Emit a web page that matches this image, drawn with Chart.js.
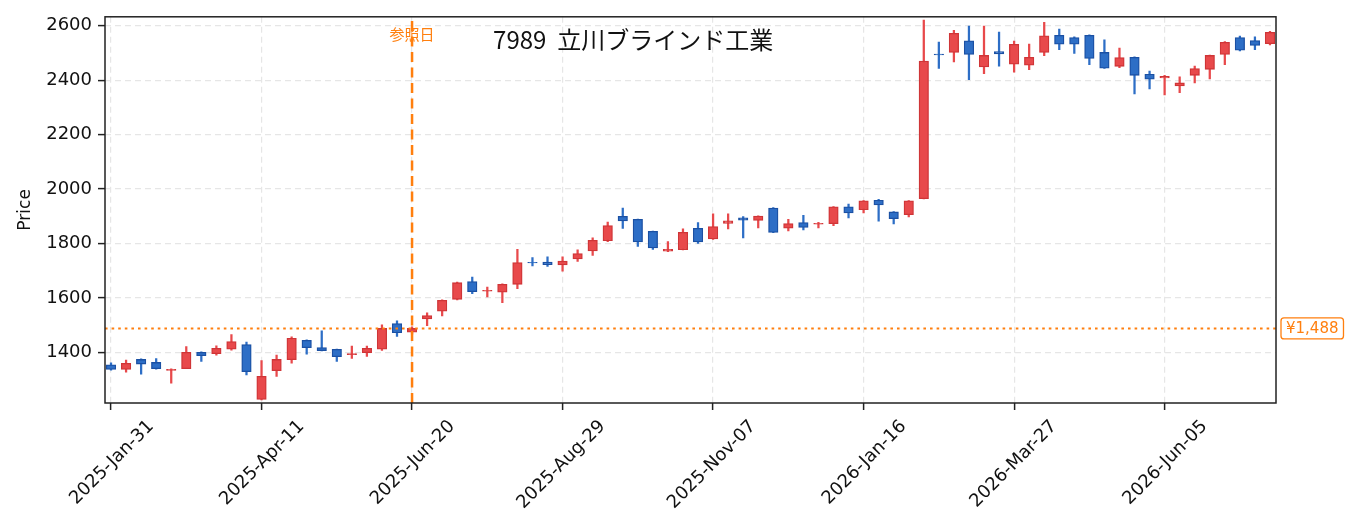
<!DOCTYPE html>
<html>
<head>
<meta charset="utf-8">
<script src="https://cdn.jsdelivr.net/npm/chart.js@4.4.1/dist/chart.umd.min.js"></script>
<style>
html,body{margin:0;padding:0;background:#fff;}
#grafico{display:block;}
</style>
</head>
<body>
<canvas id="grafico" width="1355" height="532"></canvas>
<script>
//************* DATOS **************
var codigo="7989";
var nombre="立川ブラインド工業";
var etiqueta_ref="参照日";

//semanas (viernes)
var fechas=[
 "2025-Jan-31","2025-Feb-07","2025-Feb-14","2025-Feb-21","2025-Feb-28","2025-Mar-07","2025-Mar-14","2025-Mar-21","2025-Mar-28","2025-Apr-04",
 "2025-Apr-11","2025-Apr-18","2025-Apr-25","2025-May-02","2025-May-09","2025-May-16","2025-May-23","2025-May-30","2025-Jun-06","2025-Jun-13",
 "2025-Jun-20","2025-Jun-27","2025-Jul-04","2025-Jul-11","2025-Jul-18","2025-Jul-25","2025-Aug-01","2025-Aug-08","2025-Aug-15","2025-Aug-22",
 "2025-Aug-29","2025-Sep-05","2025-Sep-12","2025-Sep-19","2025-Sep-26","2025-Oct-03","2025-Oct-10","2025-Oct-17","2025-Oct-24","2025-Oct-31",
 "2025-Nov-07","2025-Nov-14","2025-Nov-21","2025-Nov-28","2025-Dec-05","2025-Dec-12","2025-Dec-19","2025-Dec-26","2026-Jan-02","2026-Jan-09",
 "2026-Jan-16","2026-Jan-23","2026-Jan-30","2026-Feb-06","2026-Feb-13","2026-Feb-20","2026-Feb-27","2026-Mar-06","2026-Mar-13","2026-Mar-20",
 "2026-Mar-27","2026-Apr-03","2026-Apr-10","2026-Apr-17","2026-Apr-24","2026-May-01","2026-May-08","2026-May-15","2026-May-22","2026-May-29",
 "2026-Jun-05","2026-Jun-12","2026-Jun-19","2026-Jun-26","2026-Jul-03","2026-Jul-10","2026-Jul-17","2026-Jul-24"
];
var apertura=[
 1354,1337,1374,1363,1334,1340,1400,1395,1412,1429,
 1227,1333,1373,1444,1418,1411,1392,1399,1412,1506,
 1474,1523,1551,1595,1660,1625,1621,1650,1731,1732,
 1721,1743,1773,1810,1900,1889,1845,1772,1777,1856,
 1817,1874,1894,1885,1930,1856,1877,1871,1873,1935,
 1924,1959,1916,1906,1965,2496,2502,2545,2449,2505,
 2459,2455,2502,2565,2557,2565,2502,2451,2484,2422,
 2408,2379,2418,2440,2495,2557,2546,2534
];
var maximo=[
 1362,1372,1376,1377,1340,1421,1402,1424,1465,1438,
 1370,1390,1457,1446,1479,1412,1423,1423,1501,1516,
 1494,1545,1593,1658,1677,1640,1652,1779,1748,1751,
 1751,1777,1821,1879,1930,1890,1846,1807,1854,1877,
 1909,1909,1899,1902,1932,1889,1904,1878,1936,1945,
 1958,1962,1917,1958,2621,2540,2583,2599,2599,2577,
 2544,2533,2613,2588,2559,2567,2548,2518,2486,2434,
 2418,2412,2452,2492,2542,2562,2559,2580
];
var minimo=[
 1335,1327,1320,1338,1287,1340,1367,1390,1408,1317,
 1225,1312,1360,1393,1405,1367,1378,1385,1407,1459,
 1467,1498,1534,1593,1616,1604,1583,1634,1718,1716,
 1698,1734,1756,1807,1855,1789,1778,1770,1776,1800,
 1815,1854,1821,1857,1840,1846,1850,1857,1866,1894,
 1912,1882,1872,1898,1964,2443,2467,2402,2424,2452,
 2430,2439,2490,2512,2498,2457,2443,2446,2350,2368,
 2346,2354,2390,2405,2457,2508,2512,2530
];
var cierre=[
 1337,1360,1357,1340,1338,1400,1388,1415,1440,1329,
 1312,1374,1452,1417,1406,1384,1396,1415,1488,1472,
 1488,1535,1591,1656,1623,1628,1650,1730,1729,1722,
 1735,1763,1812,1866,1883,1806,1784,1779,1841,1806,
 1862,1883,1886,1901,1841,1873,1859,1874,1935,1912,
 1957,1942,1891,1957,2470,2493,2572,2495,2491,2497,
 2532,2484,2563,2532,2532,2480,2444,2483,2418,2404,
 2414,2390,2443,2491,2539,2510,2528,2576
];
var precio_ref=1488;
var fecha_ref="2025-Jun-20";
var etiquetas_x=["2025-Jan-31","2025-Apr-11","2025-Jun-20","2025-Aug-29","2025-Nov-07","2026-Jan-16","2026-Mar-27","2026-Jun-05"];
var etiquetas_y=[1400,1600,1800,2000,2200,2400,2600];

//limites de los ejes
var x_min=-0.4, x_max=fechas.length-1+0.4;
var y_min=1214, y_max=2633;

var naranja="#ff7f0e";
var rojo="#e8494b", rojo_borde="#cf3537";
var azul="#2d6ec6", azul_borde="#1b50a3";

//************* VELAS **************
var velas=[], mechas=[], col_vela=[], col_borde=[], col_mecha=[];
for(var i=0;i<fechas.length;i++){
	velas.push({x:i, y:[apertura[i], cierre[i]]});
	mechas.push({x:i, y:[minimo[i], maximo[i]]});
	var sube = cierre[i]>=apertura[i];
	col_vela.push(sube ? rojo : azul);
	col_borde.push(sube ? rojo_borde : azul_borde);
	col_mecha.push(sube ? rojo : azul);
}
var indice_ref=fechas.indexOf(fecha_ref);

//textos y marco
var extras={
	id:'extras',
	afterDraw:function(chart){
		var ctx=chart.ctx, area=chart.chartArea;
		var ex=chart.scales.x, ey=chart.scales.y;
		ctx.save();
		//marco
		ctx.strokeStyle="#222";
		ctx.lineWidth=1.5;
		ctx.strokeRect(area.left, area.top, area.right-area.left, area.bottom-area.top);
		//titulo
		ctx.fillStyle="#111";
		ctx.font='24px "Noto Sans CJK JP"';
		ctx.textAlign="center";
		ctx.textBaseline="middle";
		ctx.fillText(codigo+"  "+nombre, area.left+(area.right-area.left)*0.451, area.top+23);
		//etiqueta fecha de referencia
		ctx.fillStyle=naranja;
		ctx.font='15px "Noto Sans CJK JP"';
		ctx.fillText(etiqueta_ref, ex.getPixelForValue(indice_ref), area.top+17);
		//etiqueta precio de referencia
		var txt="¥"+precio_ref.toLocaleString("en-US");
		ctx.font='15px "DejaVu Sans"';
		var w=ctx.measureText(txt).width+10, h=21;
		var bx=area.right+5, by=ey.getPixelForValue(precio_ref)-h/2;
		ctx.beginPath();
		ctx.roundRect(bx, by, w, h, 3);
		ctx.fillStyle="#fff";
		ctx.fill();
		ctx.strokeStyle=naranja;
		ctx.lineWidth=1.3;
		ctx.stroke();
		ctx.fillStyle=naranja;
		ctx.textAlign="left";
		ctx.fillText(txt, bx+5, by+h/2+1);
		ctx.restore();
	}
};

new Chart(document.getElementById("grafico"), {
	type:'bar',
	data:{
		datasets:[
			{
				type:'line',
				data:[{x:x_min,y:precio_ref},{x:x_max,y:precio_ref}],
				borderColor:naranja,
				borderWidth:2,
				borderDash:[2.6,4],
				pointRadius:0,
				order:-2
			},
			{
				type:'line',
				data:[{x:indice_ref,y:y_min},{x:indice_ref,y:y_max}],
				borderColor:naranja,
				borderWidth:2.5,
				borderDash:[10,5.5],
				pointRadius:0,
				order:-1
			},
			{
				data:velas,
				backgroundColor:col_vela,
				borderColor:col_borde,
				borderWidth:1.3,
				borderSkipped:false,
				barThickness:9.5,
				grouped:false,
				order:0
			},
			{
				data:mechas,
				backgroundColor:col_mecha,
				borderWidth:0,
				barThickness:1.6,
				grouped:false,
				order:1
			}
		]
	},
	options:{
		responsive:false,
		animation:false,
		layout:{padding:{top:15,right:79,left:0,bottom:0}},
		plugins:{legend:{display:false},tooltip:{enabled:false}},
		scales:{
			x:{
				type:'linear',
				offset:false,
				min:x_min,
				max:x_max,
				afterBuildTicks:function(eje){
					eje.ticks=etiquetas_x.map(function(e){return {value:fechas.indexOf(e)};});
				},
				afterFit:function(eje){ eje.height=129; },
				ticks:{
					autoSkip:false,
					maxRotation:45,
					minRotation:45,
					padding:6,
					labelOffset:40,
					color:"#111",
					font:{family:'"DejaVu Sans"',size:18},
					callback:function(v){ return fechas[v]; }
				},
				grid:{offset:false,color:"#e6e6e6",lineWidth:1.2,tickColor:"#222",tickLength:7,tickWidth:1.5},
				border:{display:false,dash:[6,4]}
			},
			y:{
				type:'linear',
				min:y_min,
				max:y_max,
				afterBuildTicks:function(eje){
					eje.ticks=etiquetas_y.map(function(v){return {value:v};});
				},
				afterFit:function(eje){ eje.width=105; },
				ticks:{
					padding:6,
					color:"#111",
					font:{family:'"DejaVu Sans"',size:18},
					callback:function(v){ return String(v); }
				},
				title:{display:true,text:"Price",color:"#111",font:{family:'"DejaVu Sans"',size:17},padding:{top:15,bottom:0}},
				grid:{color:"#e6e6e6",lineWidth:1.2,tickColor:"#222",tickLength:7,tickWidth:1.5},
				border:{display:false,dash:[6,4]}
			}
		}
	},
	plugins:[extras]
});
</script>
</body>
</html>
